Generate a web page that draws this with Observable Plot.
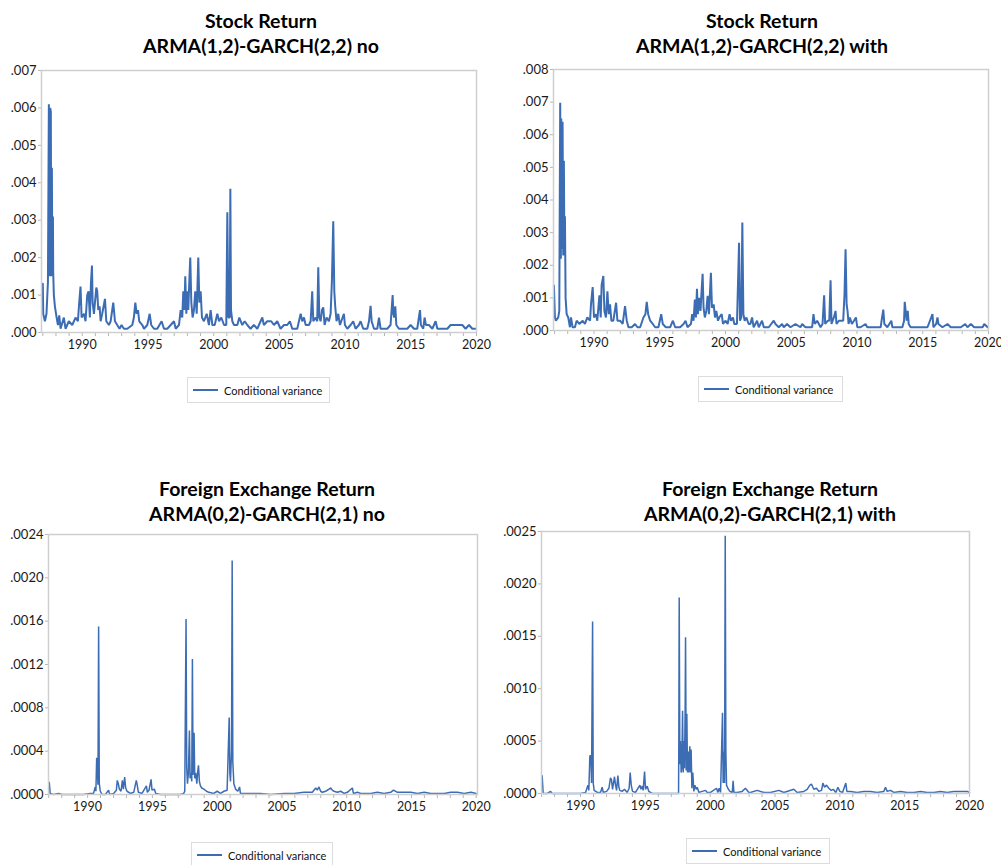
<!DOCTYPE html>
<html><head><meta charset="utf-8">
<script src="https://cdn.jsdelivr.net/npm/d3@7"></script>
<script src="https://cdn.jsdelivr.net/npm/@observablehq/plot@0.6"></script>
<style>
body{margin:0;background:#fff;width:1001px;height:865px;position:relative;overflow:hidden;font-family:Lato,"Open Sans",sans-serif;}
.title{position:absolute;font-weight:bold;font-size:19.5px;text-align:center;line-height:25px;color:#000;white-space:nowrap;z-index:2;}
.panel{position:absolute;z-index:1;}
.legend{position:absolute;border:1px solid #dcdcdc;box-sizing:border-box;display:flex;align-items:center;font-size:11px;color:#111;background:#fff;white-space:nowrap;}
.legend .sw{display:inline-block;width:25px;height:0;border-top:2px solid #3c6db4;margin:0 6px 0 5px;}
</style></head><body>
<script>
// Titles
const titles = [
  ["Stock Return", "ARMA(1,2)-GARCH(2,2) no"],
  ["Stock Return", "ARMA(1,2)-GARCH(2,2) with"],
  ["Foreign Exchange Return", "ARMA(0,2)-GARCH(2,1) no"],
  ["Foreign Exchange Return", "ARMA(0,2)-GARCH(2,1) with"]
];
const legendLabel = "Conditional variance";
const xTicks = [1987,1988,1989,1990,1991,1992,1993,1994,1995,1996,1997,1998,1999,2000,2001,2002,2003,2004,2005,2006,2007,2008,2009,2010,2011,2012,2013,2014,2015,2016,2017,2018,2019,2020];
const yTicksStockNo = [0,0.001,0.002,0.003,0.004,0.005,0.006,0.007];
const yTicksStockWith = [0,0.001,0.002,0.003,0.004,0.005,0.006,0.007,0.008];
const yTicksFxNo = [0,0.0004,0.0008,0.0012,0.0016,0.0020,0.0024];
const yTicksFxWith = [0,0.0005,0.0010,0.0015,0.0020,0.0025];

// [year, conditional variance]
const stockNo = [
[1987.00,.0013],[1987.03,.0005],[1987.16,.0003],[1987.28,.0005],[1987.39,.00135],[1987.46,.0061],[1987.51,.0015],[1987.56,.0060],[1987.61,.0059],[1987.64,.0015],[1987.69,.0044],[1987.72,.0020],[1987.77,.0031],[1987.79,.0016],[1987.84,.0010],[1987.92,.0007],[1988.05,.0004],[1988.15,.0002],[1988.25,.00046],[1988.35,.0001],[1988.60,.0004],[1988.73,.0001],[1988.98,.0003],[1989.24,.0002],[1989.49,.0004],[1989.67,.0003],[1989.77,.0008],[1989.87,.00123],[1989.95,.0004],[1990.13,.0005],[1990.25,.0003],[1990.38,.0010],[1990.48,.0011],[1990.58,.0004],[1990.66,.0013],[1990.74,.00179],[1990.79,.0008],[1990.89,.0005],[1991.07,.0012],[1991.14,.0011],[1991.22,.0006],[1991.32,.0007],[1991.40,.0003],[1991.52,.0005],[1991.73,.0009],[1991.83,.0003],[1992.03,.0002],[1992.16,.0003],[1992.36,.0008],[1992.49,.0003],[1992.66,.0002],[1992.84,.0001],[1992.99,.0002],[1993.17,.0001],[1993.43,.0001],[1993.81,.0002],[1993.93,.0004],[1994.04,.0008],[1994.14,.0005],[1994.24,.0006],[1994.34,.0003],[1994.57,.0002],[1994.70,.0001],[1994.95,.0002],[1995.13,.0005],[1995.25,.0002],[1995.46,.0001],[1995.71,.0001],[1996.04,.0003],[1996.22,.0001],[1996.47,.0001],[1996.73,.0002],[1996.98,.0003],[1997.11,.0001],[1997.36,.0002],[1997.49,.0006],[1997.61,.0004],[1997.69,.0011],[1997.77,.0006],[1997.84,.0015],[1997.92,.0005],[1997.99,.0011],[1998.07,.0006],[1998.15,.0014],[1998.22,.0020],[1998.30,.0008],[1998.40,.0004],[1998.50,.0006],[1998.60,.0011],[1998.71,.0005],[1998.83,.0020],[1998.91,.0008],[1999.01,.0011],[1999.11,.0004],[1999.26,.0003],[1999.47,.0005],[1999.64,.0002],[1999.77,.0006],[1999.90,.0002],[2000.08,.0002],[2000.28,.0005],[2000.41,.0003],[2000.58,.0004],[2000.79,.0002],[2000.96,.0002],[2001.04,.00321],[2001.12,.0004],[2001.22,.0004],[2001.27,.00384],[2001.32,.0006],[2001.42,.0003],[2001.55,.0002],[2001.80,.0002],[2001.95,.0004],[2002.18,.0002],[2002.36,.0003],[2002.56,.0002],
[2002.81,.0001],[2003.06,.0002],[2003.32,.0001],[2003.70,.0004],[2003.82,.0002],[2004.08,.0003],[2004.38,.0003],[2004.59,.0002],[2004.84,.0003],[2005.09,.0001],[2005.35,.0002],[2005.60,.0002],[2005.80,.0003],[2005.98,.0001],[2006.36,.0001],[2006.62,.0005],[2006.74,.0003],[2006.87,.0004],[2007.00,.0002],[2007.25,.0002],[2007.38,.0003],[2007.50,.0011],[2007.58,.0003],[2007.76,.0004],[2007.88,.0003],[2007.96,.00174],[2008.04,.0004],[2008.14,.0003],[2008.24,.0006],[2008.34,.00067],[2008.44,.0002],[2008.59,.0004],[2008.77,.0003],[2008.90,.0005],[2009.00,.0014],[2009.10,.00297],[2009.18,.0011],[2009.25,.0007],[2009.35,.0003],[2009.48,.0005],[2009.61,.0002],[2009.71,.0003],[2009.81,.0004],[2009.91,.0005],[2009.99,.0002],[2010.17,.0001],[2010.42,.0002],[2010.62,.0003],[2010.80,.0001],[2011.05,.0002],[2011.18,.0003],[2011.38,.0001],[2011.69,.0001],[2011.82,.0003],[2011.94,.00071],[2012.02,.0003],[2012.20,.0001],[2012.45,.0001],[2012.58,.0004],[2012.70,.0001],[2012.96,.0001],[2013.21,.0001],[2013.46,.0002],[2013.62,.0010],[2013.67,.0005],[2013.74,.0004],[2013.82,.0007],[2013.90,.0002],[2014.10,.0001],[2014.48,.0001],[2014.73,.0001],[2014.99,.0002],[2015.24,.0001],[2015.49,.0001],[2015.70,.0006],[2015.77,.0002],[2015.95,.0001],[2016.05,.0004],[2016.15,.0002],[2016.38,.0002],[2016.64,.0001],[2016.89,.0003],[2017.02,.0001],[2017.27,.0001],[2017.52,.0001],[2017.78,.0001],[2018.03,.0002],[2018.28,.0002],[2018.66,.0002],[2018.92,.0002],[2019.17,.0001],[2019.43,.0002],[2019.68,.0001],[2019.93,.0001]
];

const stockWith = [
[1986.95,.00138],[1987.03,.0004],[1987.10,.0003],[1987.28,.0004],[1987.36,.0006],[1987.38,.00254],[1987.43,.00698],[1987.48,.0022],[1987.51,.0065],[1987.56,.0025],[1987.61,.0064],[1987.66,.0023],[1987.71,.0052],[1987.74,.0030],[1987.79,.0035],[1987.84,.0010],[1987.92,.0005],[1988.04,.0004],[1988.17,.0001],[1988.25,.0004],[1988.37,.0001],[1988.55,.0001],[1988.68,.0003],[1988.88,.0002],[1989.14,.0003],[1989.31,.0002],[1989.49,.0004],[1989.70,.0003],[1989.77,.0008],[1989.90,.00133],[1990.00,.0004],[1990.15,.0005],[1990.25,.0003],[1990.41,.00108],[1990.51,.0004],[1990.58,.0014],[1990.71,.00167],[1990.79,.0006],[1990.91,.0004],[1991.02,.0012],[1991.12,.0005],[1991.22,.0008],[1991.32,.0003],[1991.47,.0003],[1991.68,.00085],[1991.78,.0003],[1991.98,.0003],[1992.18,.0002],[1992.36,.00075],[1992.49,.0003],[1992.62,.0001],[1992.87,.0001],[1993.12,.0002],[1993.30,.0001],[1993.51,.0001],[1993.76,.0004],[1993.91,.0005],[1994.01,.00088],[1994.12,.0005],[1994.27,.0003],[1994.47,.0002],[1994.65,.0001],[1994.90,.0001],[1995.11,.0005],[1995.23,.0002],[1995.46,.0001],[1995.79,.0001],[1996.00,.0003],[1996.17,.0001],[1996.55,.0001],[1996.81,.0002],[1996.96,.0003],[1997.11,.0001],[1997.37,.0002],[1997.47,.0005],[1997.57,.0003],[1997.67,.00095],[1997.75,.0004],[1997.83,.00128],[1997.90,.0005],[1998.00,.0010],[1998.10,.0006],[1998.18,.0012],[1998.26,.00174],[1998.33,.0007],[1998.43,.0004],[1998.54,.0006],[1998.64,.00106],[1998.74,.0005],[1998.89,.00177],[1998.97,.0007],[1999.10,.0008],[1999.20,.0004],[1999.30,.0006],[1999.43,.0003],[1999.53,.0004],[1999.71,.0005],[1999.81,.0002],[2000.01,.0003],[2000.16,.0002],[2000.31,.0005],[2000.42,.0003],[2000.57,.0004],[2000.67,.0002],[2000.87,.0002],[2001.03,.00269],[2001.10,.0003],[2001.20,.0004],[2001.28,.00331],[2001.36,.0005],[2001.46,.0003],[2001.59,.0004],[2001.76,.0002],
[2001.89,.0002],[2002.02,.0004],[2002.14,.0001],[2002.40,.0003],[2002.53,.0001],[2002.78,.0003],[2002.91,.0001],[2003.29,.0001],[2003.67,.0003],[2003.80,.0002],[2004.05,.0001],[2004.30,.0002],[2004.43,.0001],[2004.68,.0002],[2004.94,.0001],[2005.32,.0002],[2005.70,.0001],[2005.83,.0002],[2006.08,.0001],[2006.34,.0001],[2006.59,.0001],[2006.69,.0005],[2006.79,.0002],[2006.97,.0003],[2007.23,.0001],[2007.38,.0002],[2007.50,.00108],[2007.58,.0002],[2007.78,.0003],[2007.89,.0003],[2007.99,.00154],[2008.06,.0002],[2008.24,.0004],[2008.37,.0006],[2008.44,.0002],[2008.62,.0003],[2008.80,.0003],[2008.95,.0003],[2009.05,.0011],[2009.13,.00249],[2009.21,.0008],[2009.28,.0006],[2009.36,.0002],[2009.46,.0004],[2009.61,.0002],[2009.77,.0003],[2009.92,.0004],[2010.02,.0001],[2010.27,.0001],[2010.65,.0002],[2010.78,.0001],[2011.16,.0001],[2011.42,.0001],[2011.80,.0001],[2011.87,.0003],[2012.00,.00064],[2012.08,.0002],[2012.31,.0001],[2012.61,.0003],[2012.69,.0001],[2013.07,.0001],[2013.45,.0001],[2013.58,.0003],[2013.63,.00088],[2013.70,.0006],[2013.78,.0003],[2013.86,.0006],[2013.93,.0002],[2014.08,.0001],[2014.47,.0001],[2014.85,.0001],[2015.10,.0001],[2015.36,.0001],[2015.74,.0005],[2015.81,.0001],[2016.02,.0002],[2016.12,.0004],[2016.19,.0002],[2016.50,.0001],[2016.88,.0002],[2017.13,.0001],[2017.51,.0001],[2017.90,.0001],[2018.23,.0002],[2018.40,.0001],[2018.66,.0002],[2018.91,.0001],[2019.17,.0001],[2019.55,.0001],[2019.68,.0002],[2019.93,.0001]
];

const fxNo = [
[1987.04,.00011],[1987.11,.00001],[1987.37,.0000],[1987.76,.00001],[1988.02,.0000],[1988.40,.0000],[1988.79,.0000],[1989.18,.0000],[1989.69,.0000],[1990.21,.00001],[1990.46,.00001],[1990.59,.00007],[1990.64,.00003],[1990.70,.00034],[1990.75,.00025],[1990.80,.00009],[1990.85,.00155],[1990.90,.00010],[1990.98,.00003],[1991.11,.0000],[1991.37,.0000],[1991.62,.00004],[1991.70,.0000],[1992.01,.00001],[1992.22,.00004],[1992.29,.00013],[1992.37,.00010],[1992.45,.00005],[1992.58,.00003],[1992.68,.00013],[1992.76,.00005],[1992.86,.00016],[1992.94,.00006],[1993.04,.00003],[1993.30,.00001],[1993.56,.00002],[1993.76,.00013],[1993.84,.00008],[1993.92,.00002],[1994.20,.00001],[1994.54,.00008],[1994.61,.00002],[1994.74,.00004],[1994.90,.00014],[1994.97,.00004],[1995.15,.00005],[1995.26,.00001],[1995.62,.0000],[1996.13,.0000],[1996.65,.0000],[1997.16,.0000],[1997.42,.00001],[1997.50,.00003],[1997.60,.00162],[1997.65,.00025],[1997.71,.00010],[1997.78,.00020],[1997.86,.00059],[1997.91,.00015],[1997.99,.00020],[1998.04,.00012],[1998.09,.00125],[1998.14,.00018],[1998.22,.00057],[1998.27,.00015],[1998.35,.00020],[1998.43,.00010],[1998.51,.00022],[1998.56,.00027],[1998.63,.00012],[1998.71,.00008],[1998.81,.00006],[1998.97,.00005],[1999.18,.00003],[1999.36,.00002],[1999.74,.00001],[2000.00,.00003],[2000.26,.00001],[2000.52,.00003],[2000.77,.00004],[2000.93,.00071],[2000.98,.00020],[2001.03,.00012],[2001.11,.00040],[2001.16,.00216],[2001.21,.00030],[2001.29,.00010],[2001.42,.00005],[2001.60,.00003],[2001.73,.00007],[2001.80,.00001],[2002.19,.00001],[2002.58,.00001],
[2003.35,.00001],[2004.13,.0000],[2005.16,.00001],[2005.93,.00001],[2006.70,.00002],[2007.35,.00002],[2007.61,.00006],[2007.73,.00004],[2007.86,.00007],[2007.99,.00003],[2008.12,.00002],[2008.38,.00003],[2008.64,.00005],[2008.77,.00006],[2008.89,.00004],[2009.02,.00003],[2009.28,.00002],[2009.54,.00003],[2009.80,.00001],[2010.05,.00002],[2010.44,.00006],[2010.52,.00001],[2010.83,.00002],[2011.09,.00001],[2011.34,.00001],[2011.86,.00001],[2012.37,.00002],[2012.89,.00001],[2013.40,.00002],[2013.61,.00004],[2013.92,.00002],[2014.44,.00002],[2014.95,.00002],[2015.47,.00001],[2015.98,.00002],[2016.50,.00001],[2017.01,.00001],[2017.53,.00001],[2018.04,.00002],[2018.56,.00002],[2019.07,.00001],[2019.59,.00002],[2020.00,.00001]
];

const fxWith = [
[1987.04,.00017],[1987.12,.0000],[1987.43,.0000],[1987.69,.00002],[1987.81,.0000],[1988.20,.0000],[1988.97,.0000],[1989.49,.0000],[1990.00,.0000],[1990.39,.00001],[1990.57,.00008],[1990.64,.00003],[1990.72,.00036],[1990.80,.00036],[1990.85,.00010],[1990.93,.00164],[1990.98,.00010],[1991.05,.00003],[1991.29,.00001],[1991.54,.00001],[1991.67,.00006],[1991.75,.00001],[1992.01,.00002],[1992.19,.00005],[1992.31,.00015],[1992.39,.00013],[1992.47,.00004],[1992.62,.00016],[1992.70,.00008],[1992.78,.00003],[1992.88,.00017],[1992.96,.00006],[1993.03,.00003],[1993.21,.00002],[1993.39,.00004],[1993.60,.00001],[1993.75,.00005],[1993.83,.00020],[1993.91,.00008],[1994.01,.00002],[1994.24,.00001],[1994.58,.00008],[1994.65,.00004],[1994.76,.00007],[1994.83,.00003],[1994.94,.00021],[1995.01,.00004],[1995.14,.00007],[1995.27,.00002],[1995.53,.0000],[1995.91,.0000],[1996.43,.0000],[1996.94,.0000],[1997.46,.0000],[1997.56,.0000],[1997.58,.00046],[1997.61,.00187],[1997.66,.00028],[1997.71,.00050],[1997.76,.00020],[1997.81,.00025],[1997.87,.00079],[1997.92,.00020],[1997.97,.00050],[1998.02,.00024],[1998.07,.00082],[1998.10,.00149],[1998.15,.00022],[1998.20,.00076],[1998.25,.00020],[1998.30,.00040],[1998.35,.00020],[1998.43,.00045],[1998.48,.00020],[1998.53,.00042],[1998.59,.00005],[1998.66,.00020],[1998.74,.00002],[1998.82,.00008],[1998.92,.00004],[1999.00,.00006],[1999.13,.00001],[1999.38,.00002],[1999.64,.00003],[1999.77,.00001],[2000.03,.00001],[2000.49,.00005],[2000.59,.00001],[2000.69,.00005],[2000.80,.00001],[2000.95,.00077],[2001.00,.00010],[2001.05,.00040],[2001.11,.00010],[2001.16,.00246],[2001.21,.00040],[2001.26,.00008],[2001.36,.00005],[2001.52,.00002],[2001.70,.00001],[2001.77,.00012],[2001.83,.00001],[2002.08,.00001],[2002.47,.00002],[2002.72,.00005],[2002.98,.00001],
[2003.11,.00001],[2003.62,.00003],[2004.14,.00001],[2004.65,.00001],[2005.30,.00003],[2005.68,.00001],[2006.45,.00004],[2006.71,.00001],[2007.22,.00002],[2007.48,.00004],[2007.69,.00008],[2007.81,.00009],[2007.99,.00004],[2008.20,.00005],[2008.38,.00002],[2008.59,.00003],[2008.69,.00010],[2008.82,.00006],[2008.97,.00008],[2009.15,.00005],[2009.33,.00003],[2009.49,.00004],[2009.69,.00001],[2009.85,.00006],[2010.00,.00002],[2010.21,.00001],[2010.46,.00010],[2010.54,.00002],[2010.82,.00002],[2011.34,.00001],[2011.85,.00002],[2012.36,.00002],[2012.88,.00001],[2013.39,.00002],[2013.52,.00006],[2013.65,.00002],[2013.91,.00003],[2014.16,.00001],[2014.68,.00002],[2015.19,.00001],[2015.71,.00001],[2016.22,.00002],[2016.73,.00001],[2017.25,.00001],[2017.76,.00002],[2018.28,.00001],[2018.79,.00002],[2019.31,.00002],[2019.82,.00002],[2020.00,.00001]
];

const FONT = 'Lato, "Open Sans", sans-serif';
const BLUE = "#3c6db4";

function addTitle(lines, left, top, width) {
  const d = document.createElement("div");
  d.className = "title";
  Object.assign(d.style, {left: left + "px", top: top + "px", width: width + "px"});
  d.innerHTML = lines.map(s => `<div>${s}</div>`).join("");
  document.body.appendChild(d);
}

function addLegend(left, top, width, height) {
  const d = document.createElement("div");
  d.className = "legend";
  Object.assign(d.style, {left: left + "px", top: top + "px", width: width + "px", height: height + "px"});
  d.innerHTML = `<span class="sw"></span><span>${legendLabel}</span>`;
  document.body.appendChild(d);
}

function addPanel(o) {
  const svg = Plot.plot({
    width: o.width, height: o.height,
    marginLeft: o.ml, marginRight: o.mr, marginTop: 10, marginBottom: 30,
    x: {domain: o.xDomain},
    y: {domain: [0, o.yTicks[o.yTicks.length - 1]]},
    style: {fontFamily: FONT, fontSize: "13px", color: "#1a1a1a", background: "transparent", overflow: "visible"},
    marks: [
      Plot.axisY({ticks: o.yTicks, tickFormat: d => d3.format(o.fmt)(d).replace(/^0/, ""), tickSize: 3, tickPadding: 2, stroke: "#b5b5b5", label: null}),
      Plot.axisX({ticks: xTicks, tickFormat: d => d % 5 === 0 ? String(d) : "", tickSize: 4, tickPadding: 4, fontSize: 12.5, stroke: "#b5b5b5", label: null}),
      Plot.line(o.data, {x: d => d[0], y: d => d[1], stroke: BLUE, strokeWidth: o.sw, strokeLinejoin: "miter"}),
      Plot.frame({stroke: "#cfcfcf", strokeWidth: 1.5})
    ]
  });
  const wrap = document.createElement("div");
  wrap.className = "panel";
  Object.assign(wrap.style, {left: o.left + "px", top: o.top + "px"});
  wrap.appendChild(svg);
  document.body.appendChild(wrap);
}

addTitle(titles[0], 15, 8, 492);
addTitle(titles[1], 517, 8, 490);
addTitle(titles[2], 17, 476, 500);
addTitle(titles[3], 520, 476, 500);

addPanel({data: stockNo, left: 0, top: 60, width: 490, height: 302, ml: 41, mr: 14, yTicks: yTicksStockNo, fmt: ".3f", xDomain: [1986.9, 2020.0], sw: 2});
addPanel({data: stockWith, left: 510, top: 59, width: 490, height: 301, ml: 43, mr: 12, yTicks: yTicksStockWith, fmt: ".3f", xDomain: [1986.92, 2020.0], sw: 2});
addPanel({data: fxNo, left: 0, top: 524, width: 490, height: 300, ml: 48, mr: 13, yTicks: yTicksFxNo, fmt: ".4f", xDomain: [1986.98, 2020.1], sw: 1.5});
addPanel({data: fxWith, left: 495, top: 521, width: 488, height: 302, ml: 46, mr: 14, yTicks: yTicksFxWith, fmt: ".4f", xDomain: [1986.99, 2020.0], sw: 1.5});

addLegend(187, 377, 143, 26);
addLegend(698, 376, 145, 26);
addLegend(191, 842, 142, 26);
addLegend(686, 838, 144, 26);
</script>
</body></html>
